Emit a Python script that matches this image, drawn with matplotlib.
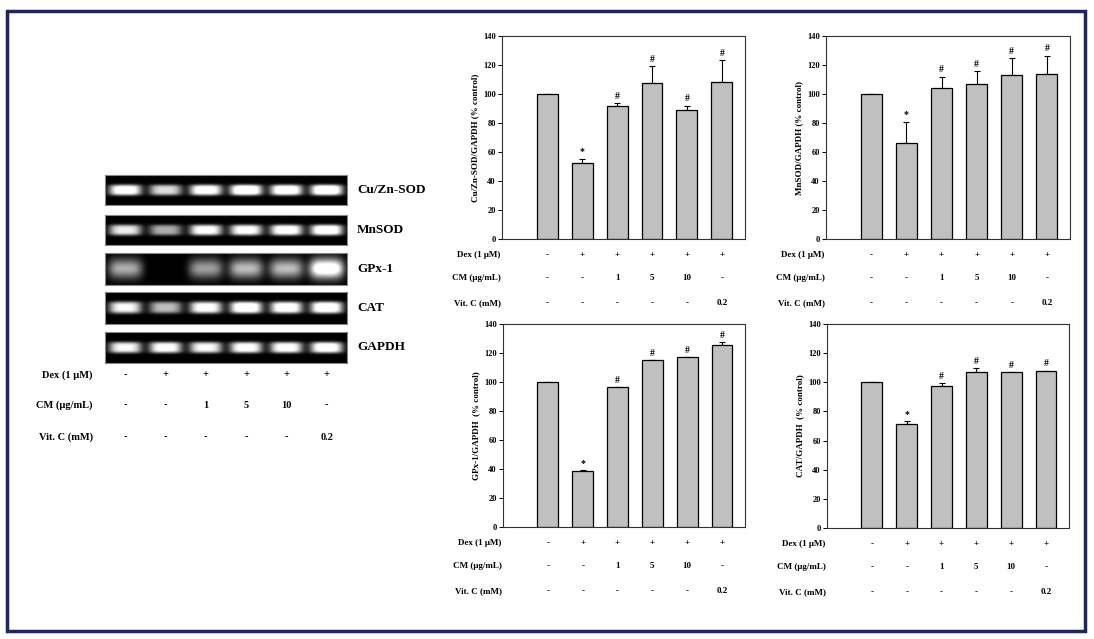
""" Gel image and four bar charts of antioxidant enzyme expression. """
import numpy as np
import matplotlib
matplotlib.use('Agg')
from matplotlib import pyplot as plt
from matplotlib import transforms
from matplotlib.patches import Rectangle

plt.rcParams['font.family'] = ['Liberation Serif', 'DejaVu Serif']
plt.rcParams['font.weight'] = 'bold'
plt.rcParams['axes.labelweight'] = 'bold'

# Treatment table shared by every panel
dex = ['-', '+', '+', '+', '+', '+']
cm = ['-', '-', '1', '5', '10', '-']
vitc = ['-', '-', '-', '-', '-', '0.2']
row_names = ['Dex (1 \u03bcM)', 'CM (\u03bcg/mL)', 'Vit. C (mM)']

# Gel band intensities (0 = no band, 1 = saturated)
genes = ['Cu/Zn-SOD', 'MnSOD', 'GPx-1', 'CAT', 'GAPDH']
band_cuzn = [0.9, 0.7, 0.9, 1.0, 0.95, 1.0]
band_mnsod = [0.75, 0.55, 0.85, 0.85, 0.9, 0.95]
band_gpx = [0.55, 0.0, 0.5, 0.6, 0.6, 1.0]
band_cat = [0.8, 0.6, 0.85, 0.95, 0.9, 0.95]
band_gapdh = [0.8, 0.85, 0.8, 0.85, 0.85, 0.9]

# Densitometry (% control), upper error bars and significance marks
cuzn_vals = [100, 52.5, 92, 107.5, 89, 108.5]
cuzn_err = [0, 3, 2, 12, 3, 15]
mnsod_vals = [100, 66, 104, 107, 113, 113.5]
mnsod_err = [0, 15, 8, 9, 12, 13]
gpx_vals = [100, 38.5, 96.5, 115, 117, 125.5]
gpx_err = [0, 1, 0, 0, 0, 2]
cat_vals = [100, 71.5, 97.5, 107, 107, 108]
cat_err = [0, 2, 2, 3, 0, 0]
marks = ['', '*', '#', '#', '#', '#']

W, H = 1094, 639
fig = plt.figure(figsize=(W / 100, H / 100), dpi=100)


def rect(x0, y0, x1, y1):
    return [x0 / W, 1 - y1 / H, (x1 - x0) / W, (y1 - y0) / H]


def fy(y):
    return 1 - y / H


# outer frame
fig.patches.append(Rectangle((7 / W, fy(631)), (1085 - 7) / W, (631 - 11) / H,
                             transform=fig.transFigure, fill=False,
                             edgecolor='#1c2660', linewidth=2.5))

# ---- gel panels ----
gel_rows = [(175, 205), (215, 245), (253, 285), (292, 324), (332, 363)]
bands = [band_cuzn, band_mnsod, band_gpx, band_cat, band_gapdh]
xs = np.linspace(0, 6, 480)
gel_ax = None
for gene, band, (y0, y1) in zip(genes, bands, gel_rows):
    gel_ax = fig.add_axes(rect(105, y0, 347, y1))
    ys = np.linspace(0, 1, 60)
    X, Y = np.meshgrid(xs, ys)
    img = np.zeros_like(X)
    diffuse = gene == 'GPx-1'
    for i, level in enumerate(band):
        sx = 0.42 if diffuse else 0.40
        sy = 0.30 if diffuse else 0.18
        dx = (X - (i + 0.5)) / sx
        dy = (Y - 0.5) / sy
        img += level * np.exp(-(dx ** 4) - (dy ** 2 if diffuse else dy ** 4))
    img = np.clip(img * 1.25, 0, 1)
    gel_ax.imshow(img, cmap='gray', vmin=0, vmax=1, aspect='auto',
                  extent=(0, 6, 0, 1), interpolation='bilinear')
    gel_ax.set_xticks([])
    gel_ax.set_yticks([])
    for s in gel_ax.spines.values():
        s.set_color('#888888')
        s.set_linewidth(0.8)
    fig.text(357 / W, fy((y0 + y1) / 2), gene, fontsize=9.5,
             ha='left', va='center')

trans = transforms.blended_transform_factory(gel_ax.transData, fig.transFigure)
for row, name, y in zip([dex, cm, vitc], row_names, [375, 405, 437]):
    fig.text(93 / W, fy(y), name, fontsize=7.5, ha='right', va='center')
    for i, v in enumerate(row):
        gel_ax.text(i + 0.5, fy(y), v, transform=trans, fontsize=7.5,
                    ha='center', va='center')

# ---- bar charts ----
charts = [
    ((502, 36, 745, 239), cuzn_vals, cuzn_err, 'Cu/Zn-SOD/GAPDH (% control)'),
    ((826, 36, 1070, 239), mnsod_vals, mnsod_err, 'MnSOD/GAPDH (% control)'),
    ((503, 324, 745, 527), gpx_vals, gpx_err, 'GPx-1/GAPDH  (% control)'),
    ((827, 324, 1069, 528), cat_vals, cat_err, 'CAT/GAPDH  (% control)'),
]
x = np.arange(6)
for box, vals, err, ylab in charts:
    ax = fig.add_axes(rect(*box))
    ax.bar(x, vals, width=0.6, color='#c0c0c0', edgecolor='black',
           linewidth=0.9, zorder=2)
    ax.errorbar(x, vals, yerr=[np.zeros(6), err], fmt='none', ecolor='black',
                elinewidth=0.8, capsize=2.5, capthick=0.8, zorder=1)
    for i, m in enumerate(marks):
        if m:
            ax.text(i, vals[i] + err[i] + 1.5, m, fontsize=7,
                    ha='center', va='bottom')
    ax.set_xlim(-1.29, 5.66)
    ax.set_ylim(0, 140)
    ax.set_yticks(range(0, 141, 20))
    ax.set_xticks([])
    ax.tick_params(axis='y', labelsize=6, length=3, width=0.7, pad=1.5)
    ax.set_ylabel(ylab, fontsize=6.5, labelpad=3)
    for s in ax.spines.values():
        s.set_linewidth(0.8)
        s.set_color('#333333')
    tr = transforms.blended_transform_factory(ax.transData, ax.transAxes)
    h = box[3] - box[1]
    for row, name, dy in zip([dex, cm, vitc], row_names, [16, 39, 64]):
        ax.text(-0.005, -dy / h, name, transform=ax.transAxes, fontsize=6.5,
                ha='right', va='center')
        for i, v in enumerate(row):
            ax.text(i, -dy / h, v, transform=tr, fontsize=6.5,
                    ha='center', va='center')

fig.savefig('out.png', dpi=100)
